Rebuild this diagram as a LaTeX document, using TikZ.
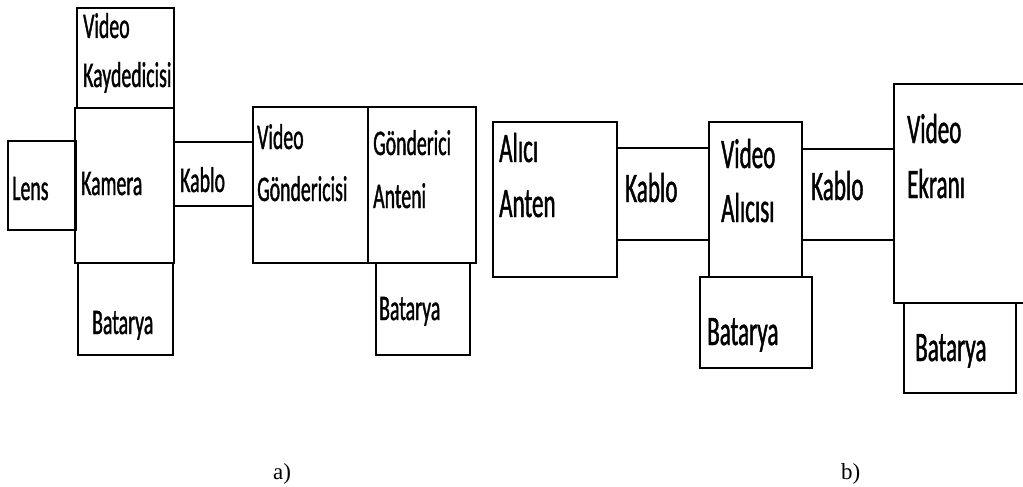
\documentclass[tikz,border=0pt]{standalone}
\usepackage{fontspec}
\setmainfont{Carlito}
\newfontfamily\boxfont{Carlito}[FakeStretch=0.55,FakeBold=1]
\newfontfamily\capfont{Liberation Serif}
\usetikzlibrary{fit}
\begin{document}
\begin{tikzpicture}[x=1pt,y=-1pt,
  box/.style={draw=black, line width=1.8pt, inner sep=0pt, fill=none},
  lblA/.style={font=\boxfont\fontsize{36}{36}\selectfont, inner sep=0pt, anchor=base west, text=black},
  lblB/.style={font=\boxfont\fontsize{42}{42}\selectfont, inner sep=0pt, anchor=base west, text=black},
  caplbl/.style={font=\capfont\fontsize{23}{23}\selectfont, inner sep=0pt, anchor=base west, text=black}]
\useasboundingbox (0,0) rectangle (1023,487);
% ---- part a ----
\node[box, fit={(77,8) (174,108)}] (rec) {};
\node[box, fit={(75,108) (174,263)}] (kam) {};
\node[box, fit={(8,141) (76,230)}] (lens) {};
\node[box, fit={(78,263) (173,355)}] (batA) {};
\node[box, fit={(174,142) (253,206)}] (kabloA) {};
\node[box, fit={(253,107) (368,263)}] (vg) {};
\node[box, fit={(368,107) (476,263)}] (ga) {};
\node[box, fit={(376,263) (470,355)}] (batB) {};
\node[lblA] (recT1) at (83,38) {Video};
\node[lblA] (recT2) at (83,87) {Kaydedicisi};
\node[lblA] (lensT) at (12,200) {Lens};
\node[lblA] (kamT) at (81,195) {Kamera};
\node[lblA] (kabloAT) at (180,192) {Kablo};
\node[lblA] (batAT) at (92,334) {Batarya};
\node[lblA] (vgT1) at (257,149) {Video};
\node[lblA] (vgT2) at (257,201) {Göndericisi};
\node[lblA] (gaT1) at (373,155) {Gönderici};
\node[lblA] (gaT2) at (373,208) {Anteni};
\node[lblA] (batBT) at (379,320) {Batarya};
% ---- part b ----
\node[box, fit={(493,122) (617,277)}] (aa) {};
\node[box, fit={(617,148) (709,240)}] (kabloB) {};
\node[box, fit={(709,122) (802,277)}] (va) {};
\node[box, fit={(700,277) (812,368)}] (batC) {};
\node[box, fit={(802,149) (894,240)}] (kabloC) {};
\node[inner sep=0pt, fit={(894,84) (1023,303)}] (ve) {};
\draw[line width=1.8pt] (ve.north east) -- (ve.north west) -- (ve.south west) -- (ve.south east);
\node[box, fit={(904,303) (1016,393)}] (batD) {};
\node[lblB] (aaT1) at (499,162) {Alıcı};
\node[lblB] (aaT2) at (499,217) {Anten};
\node[lblB] (kabloBT) at (625,202) {Kablo};
\node[lblB] (vaT1) at (721,168) {Video};
\node[lblB] (vaT2) at (721,222) {Alıcısı};
\node[lblB] (batCT) at (707,345) {Batarya};
\node[lblB] (kabloCT) at (811,200) {Kablo};
\node[lblB] (veT1) at (907,143) {Video};
\node[lblB] (veT2) at (907,198) {Ekranı};
\node[lblB] (batDT) at (915,361) {Batarya};
% ---- captions ----
\node[caplbl] (capA) at (273,479) {a)};
\node[caplbl] (capB) at (841,479) {b)};
\end{tikzpicture}
\end{document}
